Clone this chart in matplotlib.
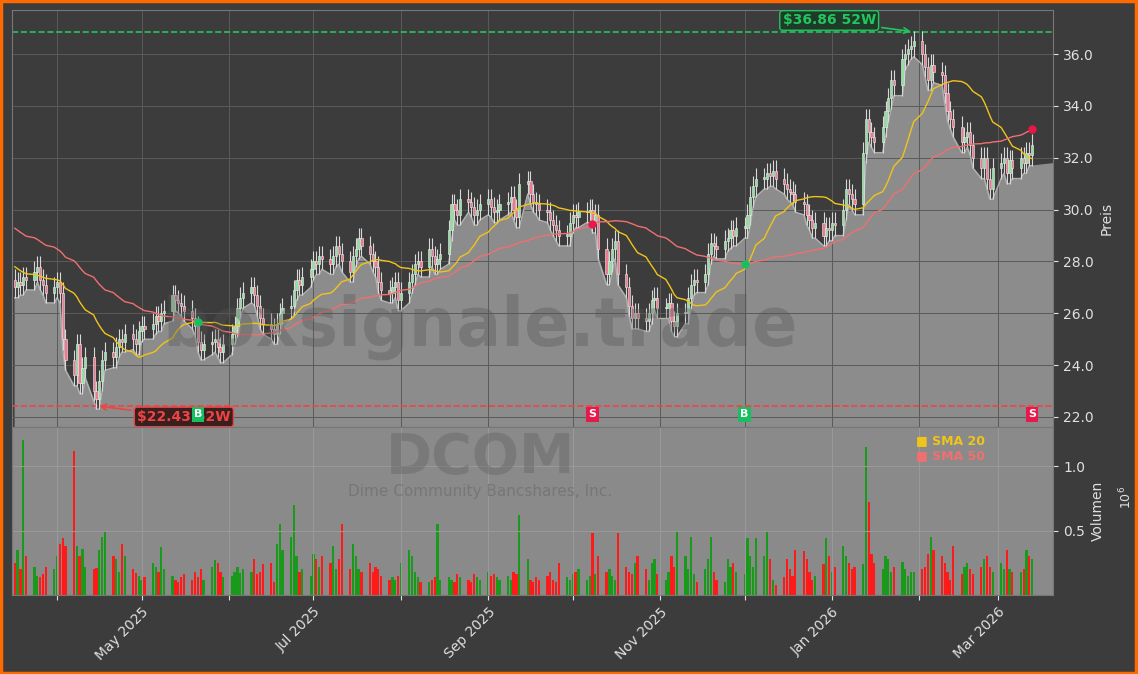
import matplotlib
matplotlib.use("Agg")
import matplotlib.pyplot as plt
import matplotlib.dates as mdates
import numpy as np
import pandas as pd

closes = [
27.0,27.2,27.1,27.4,27.3, 27.6,27.8,27.3,27.1,26.8, 27.0,27.2,26.8,25.0,24.2,
23.6,24.8,23.3,23.9,24.3, 23.0,22.7,23.4,24.2,24.5, 24.3,24.7,25.0,24.9,25.2,
25.0,24.8,25.3,25.5,25.4, 25.6,25.9,25.7,26.0,26.1, 26.7,26.5,26.4,26.3,26.1,
25.8,25.5,24.9,24.6,24.8, 24.9,25.0,24.7,24.5,24.8, 25.2,25.5,26.2,26.6,26.8,
27.0,26.7,26.3,25.8,25.6, 25.4,25.2,25.6,26.0,26.2, 26.3,26.9,27.3,27.1,27.4,
27.7,28.0,27.9,28.2,28.1, 27.9,28.2,28.6,28.3,28.0, 27.6,28.2,28.5,28.9,28.6,
28.3,28.0,27.8,27.2,26.9, 26.8,27.0,27.2,26.5,26.8, 27.2,27.5,27.9,28.0,27.8,
28.5,28.2,27.9,28.1,28.3, 29.2,30.2,30.0,29.8,30.4, 30.3,30.1,29.8,30.0,30.2,
30.4,30.1,29.9,30.0,30.2, 30.3,30.5,30.0,29.7,31.0, 31.1,30.6,30.3,30.2,30.0,
29.9,29.6,29.4,29.2,29.0, 29.0,29.5,29.8,29.7,29.9, 29.9,30.0,29.5,29.8,28.5,
27.5,28.0,28.5,28.8,27.5, 27.0,26.3,25.8,26.0,25.8, 25.7,26.0,26.5,26.6,26.2,
26.2,26.4,25.7,25.5,26.0, 26.0,26.6,27.1,27.3,27.2, 27.5,28.3,28.7,28.6,28.5,
28.8,28.9,29.2,29.0,29.3, 29.3,29.8,30.5,30.9,31.2, 31.2,31.4,31.3,31.5,31.2,
31.0,30.8,30.7,30.6,30.3, 30.2,29.8,29.6,29.3,29.5, 29.0,29.3,29.2,29.5,29.4,
30.0,30.8,30.6,30.4,30.2, 32.2,33.5,33.0,32.8,32.6, 33.2,33.8,34.3,35.0,34.8,
35.8,36.0,36.2,36.3,36.5, 36.0,35.5,35.0,35.6,35.3, 35.2,34.5,33.8,33.5,33.2,
32.6,32.8,33.0,32.5,32.0, 31.6,32.0,31.2,30.8,31.6, 31.8,32.0,31.4,31.9,31.6,
32.0,31.8,32.2,32.1,32.5]

volumes = [
0.25,0.35,0.20,1.20,0.30, 0.22,0.15,0.14,0.16,0.22, 0.20,0.30,0.40,0.44,0.38,
1.12,0.38,0.30,0.36,0.22, 0.20,0.21,0.35,0.45,0.50, 0.30,0.28,0.18,0.40,0.30,
0.20,0.17,0.15,0.12,0.14, 0.25,0.22,0.18,0.37,0.20, 0.15,0.12,0.10,0.14,0.16,
0.12,0.18,0.14,0.20,0.12, 0.22,0.27,0.25,0.18,0.14, 0.15,0.18,0.22,0.17,0.20,
0.18,0.28,0.16,0.18,0.24, 0.25,0.10,0.40,0.55,0.35, 0.45,0.70,0.30,0.18,0.20,
0.15,0.32,0.28,0.22,0.30, 0.25,0.38,0.20,0.28,0.55, 0.20,0.40,0.30,0.20,0.18,
0.25,0.18,0.22,0.20,0.15, 0.12,0.14,0.12,0.15,0.25, 0.35,0.30,0.18,0.14,0.10,
0.10,0.12,0.14,0.55,0.12, 0.14,0.12,0.10,0.16,0.14, 0.12,0.10,0.16,0.14,0.12,
0.18,0.15,0.16,0.14,0.12, 0.15,0.12,0.18,0.16,0.62, 0.28,0.12,0.10,0.14,0.12,
0.15,0.18,0.12,0.10,0.25, 0.14,0.12,0.16,0.18,0.20, 0.12,0.15,0.48,0.16,0.30,
0.18,0.20,0.15,0.12,0.48, 0.22,0.18,0.16,0.25,0.30, 0.20,0.12,0.25,0.28,0.16,
0.12,0.18,0.30,0.22,0.50, 0.30,0.20,0.45,0.16,0.10, 0.20,0.28,0.45,0.18,0.12,
0.10,0.28,0.22,0.25,0.18, 0.16,0.44,0.30,0.22,0.44, 0.30,0.50,0.28,0.12,0.08,
0.14,0.28,0.20,0.15,0.35, 0.34,0.28,0.18,0.12,0.15, 0.24,0.44,0.30,0.18,0.22,
0.38,0.30,0.25,0.20,0.22, 0.24,1.15,0.72,0.32,0.25, 0.20,0.30,0.28,0.18,0.22,
0.26,0.20,0.15,0.18,0.18, 0.20,0.22,0.32,0.45,0.35, 0.30,0.25,0.18,0.12,0.38,
0.16,0.22,0.25,0.20,0.16, 0.22,0.28,0.30,0.22,0.18, 0.25,0.20,0.35,0.20,0.18,
0.18,0.20,0.35,0.30,0.28]

prehistory = [31.0,31.2,30.9,31.1,30.8,30.9,31.0,30.7,30.8,30.6,
              30.7,30.5,30.6,30.8,30.5,30.3,30.4,30.2,30.0,30.1,
              29.9,30.0,29.7,29.8,29.5,29.6,29.3,29.1,29.2,28.9,
              28.8,28.6,28.7,28.4,28.2,28.3,28.0,27.9,27.7,27.8,
              27.6,27.5,27.7,27.4,27.3,27.5,27.2,27.1,27.3]

signals = [("2025-05-21", "B"), ("2025-10-08", "S"), ("2025-12-01", "B"), ("2026-03-13", "S")]
high52, low52 = 36.86, 22.43
ticker, company = "DCOM", "Dime Community Bancshares, Inc."

n = len(closes)
dates = pd.bdate_range("2025-03-17", periods=n)
xd = mdates.date2num(dates)
c = np.array(closes)
o = np.concatenate([[prehistory[-1]], c[:-1]])
full = pd.Series(prehistory + closes)
sma20 = full.rolling(20).mean().values[len(prehistory):]
sma50 = full.rolling(50).mean().values[len(prehistory):]

W = 0.4
hi = np.maximum(o, c) + W
lo = np.minimum(o, c) - W

BG = "#3c3c3c"
fig = plt.figure(figsize=(11.38, 6.74), dpi=100, facecolor=BG)
fig.patches.append(plt.Rectangle((0.001, 0.002), 0.997, 0.996, transform=fig.transFigure,
                                 fill=False, edgecolor="#ff6a00", linewidth=2.5))
ax = fig.add_axes([0.0105, 0.366, 0.915, 0.619])
axv = fig.add_axes([0.0105, 0.117, 0.915, 0.249], sharex=ax)
ax.set_facecolor(BG)
axv.set_facecolor("#8a8a8a")

ax.fill_between(np.append(xd, xd[-1] + 25), np.append(lo, 32.0), 20, color="#8c8c8c", zorder=1)
ax.plot(xd, lo, color="#b0b0b0", lw=1, zorder=2)
for i in range(n):
    up = c[i] >= o[i]
    col = "#90e0a0" if up else "#f07890"
    ax.vlines(xd[i], lo[i], hi[i], color="#d8d8d8", lw=0.8, zorder=3)
    ax.bar(xd[i], max(abs(c[i] - o[i]), 0.05), bottom=min(o[i], c[i]), width=0.8,
           color=col, edgecolor="#eeeeee", linewidth=0.4, zorder=4)
ax.plot(xd, sma20, color="#f0c419", lw=1, zorder=5)
ax.plot(xd, sma50, color="#f07070", lw=1, zorder=5)

ax.axhline(high52, color="#22c55e", ls="--", lw=1.2, zorder=2)
ax.axhline(low52, color="#ef4444", ls="--", lw=1.2, zorder=2)
ihi, ilo = int(np.argmax(hi)), int(np.argmin(lo))
ax.annotate(f"${high52:.2f} 52W", xy=(xd[ihi], high52), xytext=(xd[ihi] - 30, 37.3),
            color="#22c55e", fontsize=10, fontweight="bold", ha="center", va="center",
            bbox=dict(boxstyle="round,pad=0.2", fc="#1f3a28", ec="#22c55e"),
            arrowprops=dict(arrowstyle="->", color="#22c55e", lw=1.2), zorder=8)
ax.annotate(f"${low52:.2f} 52W", xy=(xd[ilo], low52), xytext=(xd[ilo] + 31, 22.0),
            color="#ef4444", fontsize=10, fontweight="bold", ha="center", va="center",
            bbox=dict(boxstyle="round,pad=0.2", fc="#3a1f1f", ec="#ef4444"),
            arrowprops=dict(arrowstyle="->", color="#ef4444", lw=1.2), zorder=8)

for d, s in signals:
    xi = mdates.date2num(pd.Timestamp(d))
    idx = int(np.argmin(np.abs(xd - xi)))
    colr = "#16c060" if s == "B" else "#e8184a"
    ax.plot(xd[idx], sma50[idx], "o", color=colr, ms=5, zorder=7)
    ax.text(xd[idx], 22.1, s, color="white", fontsize=8, fontweight="bold", ha="center",
            va="center", bbox=dict(boxstyle="square,pad=0.2", fc=colr, ec="none"), zorder=9)

ax.text(0.45, 0.24, "boxsignale.trade", transform=ax.transAxes, fontsize=48, fontweight="bold",
        color="#555555", alpha=0.35, ha="center", va="center", zorder=6)
axv.text(0.45, 0.82, ticker, transform=axv.transAxes, fontsize=40, fontweight="bold",
         color="#6a6a6a", alpha=0.5, ha="center", va="center")
axv.text(0.45, 0.62, company, transform=axv.transAxes, fontsize=11,
         color="#6a6a6a", alpha=0.6, ha="center", va="center")

vc = ["#1a9a1a" if c[i] >= o[i] else "#ff1a1a" for i in range(n)]
axv.bar(xd, volumes, width=0.8, color=vc)
axv.set_ylim(0, 1.3)
axv.set_yticks([0.5, 1.0])
axv.set_yticklabels(["0.5", "1.0"])
ax.set_ylim(21.6, 37.7)
ax.set_yticks(np.arange(22, 37, 2))
ax.set_yticklabels([f"{v:.1f}" for v in np.arange(22, 37, 2)])
ax.set_xlim(xd[0] - 1, xd[-1] + 7.5)

for a in (ax, axv):
    a.yaxis.tick_right()
    a.yaxis.set_label_position("right")
    a.tick_params(colors="#e0e0e0", labelsize=10)
    a.grid(True, color="#5a5a5a" if a is ax else "#9a9a9a", lw=0.7)
    for sp in a.spines.values():
        sp.set_color("#777777")
ax.set_ylabel("Preis", color="#e0e0e0")
axv.set_ylabel("Volumen", color="#e0e0e0")
axv.text(1.062, 0.58, r"$10^6$", transform=axv.transAxes, color="#e0e0e0", rotation=90,
         va="center", fontsize=9)
plt.setp(ax.get_xticklabels(), visible=False)
axv.xaxis.set_major_locator(mdates.MonthLocator())
axv.xaxis.set_major_formatter(plt.FuncFormatter(
    lambda v, p: mdates.num2date(v).strftime("%b %Y") if mdates.num2date(v).month % 2 == 1 else ""))
plt.setp(axv.get_xticklabels(), rotation=45, ha="right", rotation_mode="anchor")

axv.text(0.868, 0.92, "■ SMA 20", transform=axv.transAxes, color="#f0c419", fontsize=9,
         fontweight="bold", va="center")
axv.text(0.868, 0.83, "■ SMA 50", transform=axv.transAxes, color="#f07070", fontsize=9,
         fontweight="bold", va="center")

fig.savefig("out.png", dpi=100, facecolor=BG)
